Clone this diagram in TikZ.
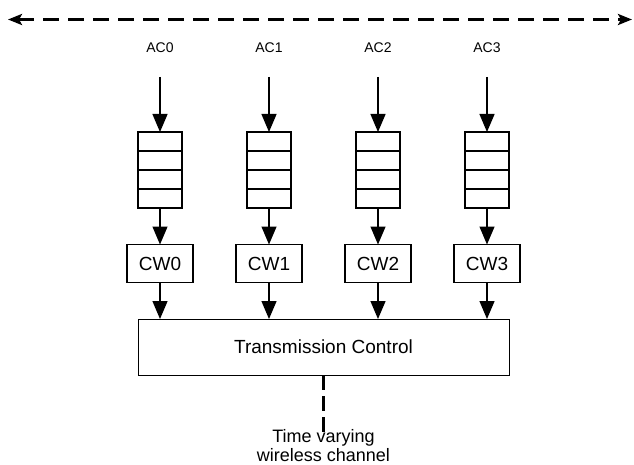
\documentclass[tikz,border=0pt]{standalone}
\usepackage{fontspec}
\setmainfont{Liberation Sans}
\usetikzlibrary{arrows.meta}
\begin{document}
\begin{tikzpicture}[x=1pt,y=-1pt,
  every node/.style={inner sep=0pt,outer sep=0pt},
  aclabel/.style={font=\fontsize{14}{14}\selectfont},
  queuebox/.style={draw,line width=1.3pt,minimum width=44pt,minimum height=76pt},
  cwbox/.style={draw,line width=1.1pt,minimum width=66pt,minimum height=38pt,font=\fontsize{19}{19}\selectfont},
  tcbox/.style={draw,line width=1pt,minimum width=371pt,minimum height=56pt,font=\fontsize{19}{19}\selectfont},
  flow/.style={line width=1.3pt,-{Triangle[length=18pt,width=15pt]}},
  bigdash/.style={line width=3.3pt,dash pattern=on 16pt off 9pt},
]
\useasboundingbox (0,0) rectangle (634,465);
% top dashed double arrow
\coordinate (L) at (8,19.5);
\coordinate (R) at (632,19.5);
\draw[bigdash,{Stealth[length=14pt,width=11pt,inset=3pt]}-{Stealth[length=14pt,width=11pt,inset=3pt]}] (L) -- (R);
% columns
\foreach \i/\cx in {0/160,1/269,2/378,3/487}{
  \node[aclabel] (ac\i) at (\cx,47.5) {AC\i};
  \coordinate (s\i) at (\cx,77);
  \node[queuebox] (q\i) at (\cx,170) {};
  \draw[line width=1.3pt] (\cx-22,151) -- (\cx+22,151)
                          (\cx-22,170) -- (\cx+22,170)
                          (\cx-22,189) -- (\cx+22,189);
  \node[cwbox] (cw\i) at (\cx,263.5) {CW\i};
  \draw[flow] (s\i) -- (q\i.north);
  \draw[flow] (q\i.south) -- (cw\i.north);
}
\node[tcbox] (tc) at (323.5,347) {Transmission Control};
\foreach \i in {0,1,2,3}{
  \draw[flow] (cw\i.south) -- (cw\i.south |- tc.north);
}
\node[font=\fontsize{18}{19}\selectfont,align=center] (wc) at (323.5,446) {Time varying\\wireless channel};
\coordinate (we) at (323.5,432);
\draw[line width=3pt,dash pattern=on 15pt off 6pt] (tc.south) -- (we);
\end{tikzpicture}
\end{document}
